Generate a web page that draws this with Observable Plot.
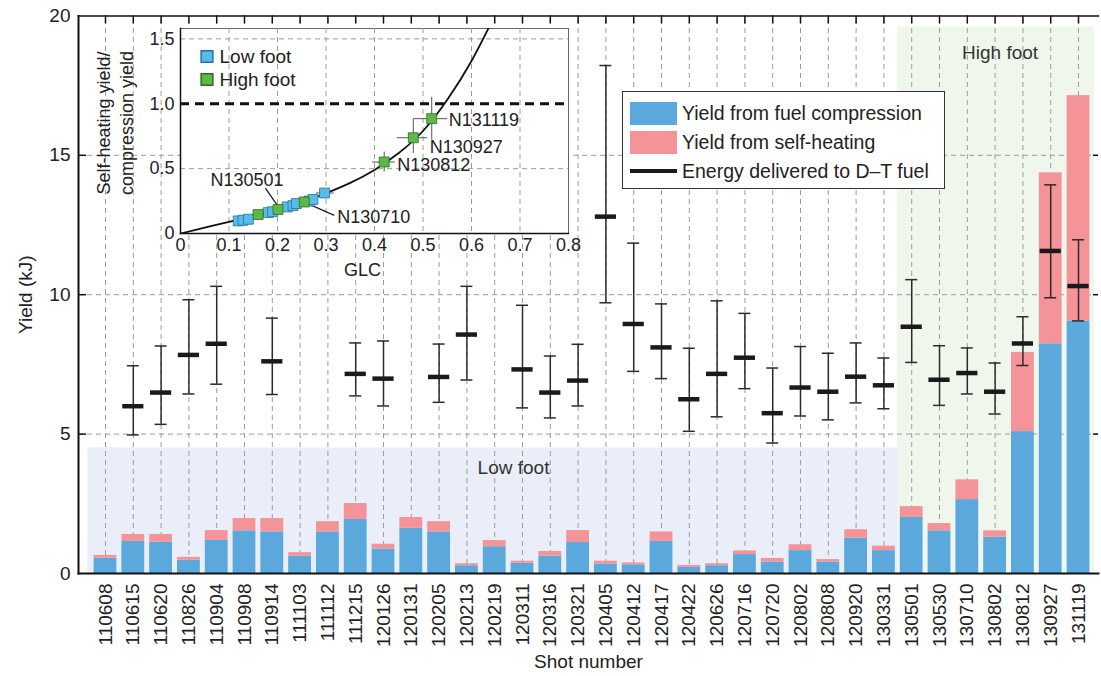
<!DOCTYPE html>
<html><head><meta charset="utf-8">
<script src="https://cdn.jsdelivr.net/npm/d3@7"></script>
<script src="https://cdn.jsdelivr.net/npm/@observablehq/plot@0.6"></script>
<style>
body{margin:0;background:#fff;font-family:"Liberation Sans",Arial,Helvetica,sans-serif;color:#222;}
#wrap{position:relative;width:1101px;height:676px;overflow:hidden;}
#main{position:absolute;left:0;top:0;}
#inset{position:absolute;left:90px;top:22px;}
#legend{position:absolute;left:622px;top:91px;width:321px;height:96px;border:1.5px solid #333;background:#fff;box-sizing:content-box;}
#legend .row{position:absolute;left:7px;display:flex;align-items:center;height:26px;font-size:19.5px;white-space:nowrap;}
#legend .sw{width:47px;margin-right:5px;}
</style>
</head><body>
<div id="wrap"><div id="main"></div><div id="inset"></div><div id="legend"></div></div>
<script>
// ---------- data ----------
const shots = ["110608","110615","110620","110826","110904","110908","110914","111103","111112","111215",
  "120126","120131","120205","120213","120219","120311","120316","120321","120405","120412","120417",
  "120422","120626","120716","120720","120802","120808","120920","130331","130501","130530","130710",
  "130802","130812","130927","131119"];
const compressionYield = [0.55,1.15,1.12,0.48,1.19,1.53,1.49,0.62,1.49,1.94,0.88,1.62,1.49,0.28,0.96,0.37,0.62,1.11,
  0.33,0.31,1.15,0.22,0.28,0.68,0.41,0.82,0.41,1.27,0.82,2.01,1.53,2.65,1.30,5.09,8.24,9.06];
const totalYield = [0.65,1.40,1.40,0.58,1.54,1.97,1.97,0.75,1.86,2.51,1.05,2.01,1.86,0.35,1.18,0.44,0.79,1.54,
  0.44,0.38,1.49,0.29,0.35,0.81,0.54,1.03,0.50,1.57,0.98,2.40,1.79,3.36,1.53,7.93,14.37,17.14];
const energy = [null,6.00,6.49,7.84,8.24,null,7.61,null,null,7.16,6.99,null,7.05,8.57,null,7.32,6.49,6.92,
  12.8,8.95,8.11,6.25,7.16,7.74,5.75,6.67,6.52,7.06,6.75,8.85,6.95,7.19,6.52,8.25,11.57,10.31];
const energyLo = [null,4.97,5.35,6.44,6.79,null,6.42,null,null,6.37,6.01,null,6.14,6.94,null,5.94,5.58,6.01,
  9.71,7.25,6.99,5.10,5.62,6.63,4.68,5.65,5.51,6.12,5.91,7.57,6.03,6.44,5.72,7.46,9.89,9.06];
const energyHi = [null,7.45,8.16,9.82,10.3,null,9.16,null,null,8.27,8.34,null,8.23,10.3,null,9.62,7.80,8.22,
  18.22,11.85,9.67,8.08,9.78,9.33,7.37,8.14,7.90,8.27,7.73,10.54,8.17,8.09,7.55,9.21,13.94,11.97];
const lowFootShots = shots.slice(0, 29);
const highFootShots = shots.slice(29);
const lowFootTop = 4.5, highFootTop = 19.6;
const yTicks = [0,5,10,15,20];
const yGrid = [5,10,15];

// inset data
const curveGLC   = [0,0.05,0.1,0.15,0.2,0.25,0.3,0.35,0.4,0.45,0.5,0.55,0.6,0.64];
const curveRatio = [0,0.045,0.09,0.135,0.185,0.24,0.31,0.39,0.49,0.62,0.79,1.03,1.33,1.62];
const lowGLC   = [0.119,0.129,0.14,0.181,0.19,0.22,0.232,0.239,0.265,0.273,0.297];
const lowRatio = [0.097,0.102,0.11,0.161,0.168,0.205,0.215,0.231,0.25,0.262,0.312];
const highGLC   = [0.160,0.201,0.255,0.42,0.48,0.518];
const highRatio = [0.146,0.185,0.243,0.551,0.738,0.885];
const errGLCLo = [0.396,0.447,0.483,0.28];
const errGLCHi = [0.443,0.51,0.551,0.317];
const errRatioLo = [0.474,0.617,0.72,0.30];
const errRatioHi = [0.628,0.885,1.05,0.325];
const errGLC = [0.42,0.48,0.518,0.297];
const errRatio = [0.551,0.738,0.885,0.312];
const insetXTicks = [0,0.1,0.2,0.3,0.4,0.5,0.6,0.7,0.8];
const insetXTickLabels = ["0","0.1","0.2","0.3","0.4","0.5","0.6","0.7","0.8"];
const insetYTicks = [0,0.5,1.0,1.5];
const insetYTickLabels = ["0","0.5","1.0","1.5"];
const shotLabels = ["N130501","N130710","N130812","N130927","N131119"];
const shotLabelGLC = [0.137,0.323,0.447,0.514,0.553];
const shotLabelRatio = [0.41,0.128,0.525,0.666,0.871];
const leaderX1 = [0.175,0.266], leaderY1 = [0.35,0.225];
const leaderX2 = [0.2,0.317],  leaderY2 = [0.215,0.14];

// ---------- colours ----------
const BLUE = "#5AA8DC", PINK = "#F49499", LOWBG = "#E9EEF8", HIGHBG = "#EFF7EC";
const GRID = "#9c9c9c";
const FONT = "'Liberation Sans', Arial, Helvetica, sans-serif";

// ---------- main ----------
const W = 1101, H = 676, mL = 78, mR = 3, mT = 15.4, mB = 103;
const plotW = W - mL - mR, plotH = H - mT - mB;
const table = shots.map((s, i) => ({shot: s, comp: compressionYield[i], total: totalYield[i],
  e: energy[i], lo: energyLo[i], hi: energyHi[i]}));
const etable = table.filter(d => d.e != null);

const main = Plot.plot({
  width: W, height: H, marginLeft: mL, marginRight: mR, marginTop: mT, marginBottom: mB,
  style: {fontFamily: FONT, fontSize: "19px", color: "#222", background: "white"},
  x: {type: "band", domain: shots, paddingInner: 0.18, paddingOuter: 0.435, align: 0.645, round: false, label: null},
  y: {domain: [0, 20], label: null},
  marks: [
    Plot.barY(lowFootShots, {x: d => d, y1: 0, y2: lowFootTop, fill: LOWBG, insetLeft: -2.7, insetRight: -2.7}),
    Plot.barY(lowFootShots.slice(0, 1), {x: d => d, y1: 0, y2: lowFootTop, fill: LOWBG, insetLeft: -6.3}),
    Plot.barY(highFootShots, {x: d => d, y1: 0, y2: highFootTop, fill: HIGHBG, insetLeft: -2.7, insetRight: -2.7}),
    Plot.barY(highFootShots.slice(-1), {x: d => d, y1: 0, y2: highFootTop, fill: HIGHBG, insetRight: -4.6}),
    Plot.ruleY(yGrid, {stroke: GRID, strokeDasharray: "5,4"}),
    Plot.ruleX(shots, {x: d => d, y1: 0, y2: 20, stroke: GRID, strokeDasharray: "5,4"}),
    Plot.barY(table, {x: "shot", y1: 0, y2: "comp", fill: BLUE}),
    Plot.barY(table, {x: "shot", y1: "comp", y2: "total", fill: PINK}),
    Plot.ruleX(etable, {x: "shot", y1: "lo", y2: "hi", stroke: "#2b2b2b", strokeWidth: 1.5}),
    Plot.tickY(etable, {x: "shot", y: "hi", stroke: "#2b2b2b", strokeWidth: 1.5, insetLeft: 5.4, insetRight: 5.4}),
    Plot.tickY(etable, {x: "shot", y: "lo", stroke: "#2b2b2b", strokeWidth: 1.5, insetLeft: 5.4, insetRight: 5.4}),
    Plot.tickY(etable, {x: "shot", y: "e", stroke: "#1a1a1a", strokeWidth: 4.5, insetLeft: 0.8, insetRight: 0.8}),
    Plot.text(["Low foot"], {x: () => "120311", y: () => 3.8, dx: -9, fill: "#333", fontSize: 19}),
    Plot.text(["High foot"], {x: () => "130802", y: () => 18.67, dx: 5, fill: "#333", fontSize: 19}),
    Plot.frame({anchor: "left", stroke: "#111", strokeWidth: 2}),
    Plot.frame({anchor: "top", stroke: "#111", strokeWidth: 1.5}),
    Plot.frame({anchor: "bottom", stroke: "#111", strokeWidth: 2}),
    Plot.tickY(yGrid, {y: d => d, insetRight: plotW - 8, stroke: "#111", strokeWidth: 1.5}),
    Plot.tickY(yGrid, {y: d => d, insetLeft: plotW - 5, stroke: "#111", strokeWidth: 1.5}),
    Plot.tickX(shots, {x: d => d, insetBottom: plotH - 8, stroke: "#111", strokeWidth: 1.5}),
    Plot.axisY(yTicks, {tickSize: 0, tickPadding: 8, fontSize: 19, fill: "#222"}),
    Plot.axisX({tickRotate: -90, tickSize: 0, tickPadding: 10, fontSize: 19, fill: "#222"}),
    Plot.text(["Yield (kJ)"], {frameAnchor: "left", textAnchor: "middle", dx: -53, rotate: -90, fontSize: 19, fill: "#222"}),
    Plot.text(["Shot number"], {frameAnchor: "bottom", lineAnchor: "middle", dy: 88, fontSize: 19, fill: "#222"})
  ]
});
document.getElementById("main").appendChild(main);

// ---------- inset ----------
const curve = curveGLC.map((x, i) => ({x, y: curveRatio[i]}));
const low = lowGLC.map((x, i) => ({x, y: lowRatio[i]}));
const high = highGLC.map((x, i) => ({x, y: highRatio[i]}));
const errs = errGLC.map((x, i) => ({x, y: errRatio[i], x1: errGLCLo[i], x2: errGLCHi[i], y1: errRatioLo[i], y2: errRatioHi[i]}));
const labs = shotLabels.map((t, i) => ({t, x: shotLabelGLC[i], y: shotLabelRatio[i], a: i === 0 ? "middle" : "start"}));
const leaders = leaderX1.map((x, i) => ({x1: x, y1: leaderY1[i], x2: leaderX2[i], y2: leaderY2[i]}));

const inset = Plot.plot({
  width: 488, height: 262, marginLeft: 90, marginRight: 10, marginTop: 6, marginBottom: 51,
  style: {fontFamily: FONT, fontSize: "18px", color: "#222", background: "transparent", overflow: "visible"},
  x: {type: "linear", domain: [0, 0.8], label: null},
  y: {type: "linear", domain: [0, 1.58], label: null},
  marks: [
    Plot.frame({fill: "white", stroke: "#666", strokeWidth: 1}),
    Plot.ruleX(insetXTicks.slice(1, 8), {x: d => d, stroke: GRID, strokeDasharray: "5,4"}),
    Plot.ruleY([0.5, 1.5], {y: d => d, stroke: GRID, strokeDasharray: "5,4"}),
    Plot.ruleY([1.0], {y: d => d, stroke: "#111", strokeWidth: 2.8, strokeDasharray: "9,6"}),
    Plot.line(curve, {x: "x", y: "y", curve: "natural", clip: true, stroke: "#111", strokeWidth: 1.8}),
    Plot.link(leaders, {x1: "x1", y1: "y1", x2: "x2", y2: "y2", stroke: "#222", strokeWidth: 1.3}),
    Plot.ruleY(errs, {y: "y", x1: "x1", x2: "x2", stroke: "#555", strokeWidth: 1}),
    Plot.ruleX(errs, {x: "x", y1: "y1", y2: "y2", stroke: "#555", strokeWidth: 1}),
    Plot.dot(low, {x: "x", y: "y", symbol: "square", r: 5.6, fill: "#55BDEA", stroke: "#2c6f96", strokeWidth: 0.8}),
    Plot.dot(high, {x: "x", y: "y", symbol: "square", r: 5.6, fill: "#5DB946", stroke: "#2e6a22", strokeWidth: 0.8}),
    Plot.text(labs.filter(d => d.a === "start"), {x: "x", y: "y", text: "t", textAnchor: "start", fontSize: 18, fill: "#222"}),
    Plot.text(labs.filter(d => d.a === "middle"), {x: "x", y: "y", text: "t", fontSize: 18, fill: "#222"}),
    Plot.dot(["Low foot"], {frameAnchor: "top-left", dx: 26.5, dy: 28, symbol: "square", r: 6.6, fill: "#55BDEA", stroke: "#2c6f96"}),
    Plot.dot(["High foot"], {frameAnchor: "top-left", dx: 26.5, dy: 51, symbol: "square", r: 6.6, fill: "#5DB946", stroke: "#2e6a22"}),
    Plot.text(["Low foot"], {frameAnchor: "top-left", dx: 39, dy: 28, lineAnchor: "middle", textAnchor: "start", fontSize: 19, fill: "#222"}),
    Plot.text(["High foot"], {frameAnchor: "top-left", dx: 39, dy: 51, lineAnchor: "middle", textAnchor: "start", fontSize: 19, fill: "#222"}),
    Plot.frame({anchor: "left", stroke: "#111", strokeWidth: 1.5}),
    Plot.frame({anchor: "bottom", stroke: "#111", strokeWidth: 1.5}),
    Plot.axisX(insetXTicks, {tickSize: 0, tickPadding: 5, fontSize: 18, fill: "#222", tickFormat: (d, i) => insetXTickLabels[i]}),
    Plot.axisY(insetYTicks, {tickSize: 0, tickPadding: 6, fontSize: 18, fill: "#222", tickFormat: (d, i) => insetYTickLabels[i]}),
    Plot.text(["GLC"], {frameAnchor: "bottom", dx: -12, dy: 37, lineAnchor: "middle", fontSize: 18, fill: "#222"}),
    Plot.text(["Self-heating yield/\ncompression yield"], {frameAnchor: "left", textAnchor: "middle", dx: -66, dy: -8, rotate: -90, lineHeight: 1.25, fontSize: 18, fill: "#222"})
  ]
});
document.getElementById("inset").appendChild(inset);

// ---------- legend ----------
const legendItems = [
  {label: "Yield from fuel compression", color: BLUE, kind: "box"},
  {label: "Yield from self-heating", color: PINK, kind: "box"},
  {label: "Energy delivered to D\u2013T fuel", color: "#1a1a1a", kind: "line"}
];
const legendRowTops = [8, 37, 66];
const leg = document.getElementById("legend");
legendItems.forEach((it, i) => {
  const row = document.createElement("div");
  row.className = "row";
  row.style.top = legendRowTops[i] + "px";
  const sw = document.createElement("div");
  sw.className = "sw";
  sw.style.background = it.color;
  sw.style.height = it.kind === "box" ? "23px" : "4.5px";
  row.appendChild(sw);
  const t = document.createElement("span");
  t.textContent = it.label;
  row.appendChild(t);
  leg.appendChild(row);
});
</script>
</body></html>
